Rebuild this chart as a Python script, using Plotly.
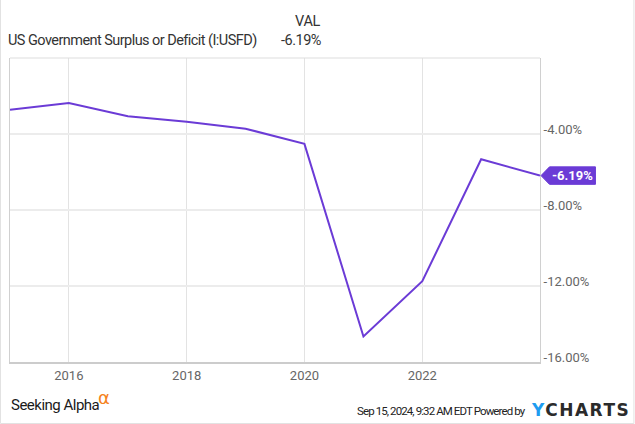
import plotly.graph_objects as go

# ---- data ----
dates = ["2015-01-01", "2016-01-01", "2017-01-01", "2018-01-01", "2019-01-01",
         "2020-01-01", "2021-01-01", "2022-01-01", "2023-01-01", "2024-01-01"]
values = [-2.72, -2.37, -3.07, -3.35, -3.72, -4.52, -14.66, -11.75, -5.33, -6.19]
series_name = "US Government Surplus or Deficit (I:USFD)"
x_tick_vals = ["2016-01-01", "2018-01-01", "2020-01-01", "2022-01-01"]
x_tick_text = ["2016", "2018", "2020", "2022"]
y_ticks = [-4, -8, -12, -16]
y_tick_text = ["-4.00%", "-8.00%", "-12.00%", "-16.00%"]

W, H = 635, 424
ML, MR, MT, MB = 10, 94.5, 58, 62
PW, PH = W - ML - MR, H - MT - MB

def px(x):
    return (x - ML) / PW

def py(y):
    return (H - MB - y) / PH

LINE = "#6b3bd6"
FONT_N = "Roboto, Arial, sans-serif"

def tight(s, sp):
    return f"<span style='letter-spacing:{sp}px'>{s}</span>"

fig = go.Figure()
fig.add_trace(go.Scatter(x=dates, y=values, mode="lines",
                         line=dict(color=LINE, width=2), hoverinfo="skip",
                         showlegend=False))

last = values[-1]
half = 0.46
shapes = [
    dict(type="line", xref="paper", yref="paper", x0=0, x1=1, y0=1, y1=1,
         line=dict(color="#dddddd", width=1)),
    dict(type="rect", xref="paper", yref="paper", x0=px(0.5), x1=px(634.5),
         y0=py(423.5), y1=py(-2), line=dict(color="#e2e2e2", width=1)),
    dict(type="path", xref="paper", yref="y",
         path=(f"M {px(541.5)},{last} L {px(550)},{last + half} "
               f"L {px(596)},{last + half} L {px(596)},{last - half} "
               f"L {px(550)},{last - half} Z"),
         fillcolor=LINE, line=dict(color=LINE, width=1)),
]

annotations = [
    dict(text=tight(series_name, -0.55), xref="paper", yref="paper", x=px(6), y=py(41),
         xanchor="left", yanchor="middle", showarrow=False,
         font=dict(family=FONT_N, size=14.5, color="#333333")),
    dict(text=tight("VAL", -0.3), xref="paper", yref="paper", x=px(323), y=py(22),
         xanchor="right", yanchor="middle", showarrow=False,
         font=dict(family=FONT_N, size=14.5, color="#333333")),
    dict(text=tight(f"{last:.2f}%", -0.5), xref="paper", yref="paper", x=px(323), y=py(41),
         xanchor="right", yanchor="middle", showarrow=False,
         font=dict(family=FONT_N, size=14.5, color="#333333")),
    dict(text=f"<b>{last:.2f}%</b>", xref="paper", yref="y", x=px(573), y=last,
         xanchor="center", yanchor="middle", showarrow=False,
         font=dict(family=FONT_N, size=13, color="white")),
    dict(text=tight("Seeking Alpha", -0.5), xref="paper", yref="paper", x=px(9), y=py(405),
         xanchor="left", yanchor="middle", showarrow=False,
         font=dict(family=FONT_N, size=15, color="#1a1a1a")),
    dict(text="\u03b1", xref="paper", yref="paper", x=px(96), y=py(397),
         xanchor="left", yanchor="middle", showarrow=False,
         font=dict(family="DejaVu Sans, sans-serif", size=18, color="#f58220")),
    dict(text=tight("Sep 15, 2024, 9:32 AM EDT Powered by", -0.9), xref="paper", yref="paper",
         x=px(528), y=py(411), xanchor="right", yanchor="middle", showarrow=False,
         font=dict(family=FONT_N, size=11.5, color="#222222")),
    dict(text="<b><span style='letter-spacing:1.5px'><span style='color:#1e9cf0'>Y</span>CHARTS</span></b>",
         xref="paper", yref="paper",
         x=px(529), y=py(410), xanchor="left", yanchor="middle", showarrow=False,
         font=dict(family="DejaVu Sans, sans-serif", size=17, color="#2b2b2b")),
]

fig.update_layout(
    width=W, height=H,
    margin=dict(l=ML, r=MR, t=MT, b=MB),
    paper_bgcolor="white", plot_bgcolor="white",
    shapes=shapes, annotations=annotations,
    xaxis=dict(type="date", range=["2015-01-01", "2024-01-01"],
               tickvals=x_tick_vals, ticktext=x_tick_text,
               showgrid=True, gridcolor="#e3e3e3", gridwidth=1,
               showline=True, linecolor="#cccccc", linewidth=2,
               ticks="", zeroline=False,
               tickfont=dict(family=FONT_N, size=13, color="#666666")),
    yaxis=dict(side="right", range=[-16, 0], tickvals=y_ticks, ticktext=y_tick_text,
               ticklabelshift=-5,
               showgrid=True, gridcolor="#ececec", gridwidth=2,
               showline=True, mirror=True, linecolor="#d0d0d0", linewidth=1,
               ticks="", zeroline=False,
               tickfont=dict(family=FONT_N, size=13, color="#666666")),
)

fig.write_html("out.html", config={"displayModeBar": False},
               post_script="document.body.style.margin='0';document.body.style.padding='0';")
